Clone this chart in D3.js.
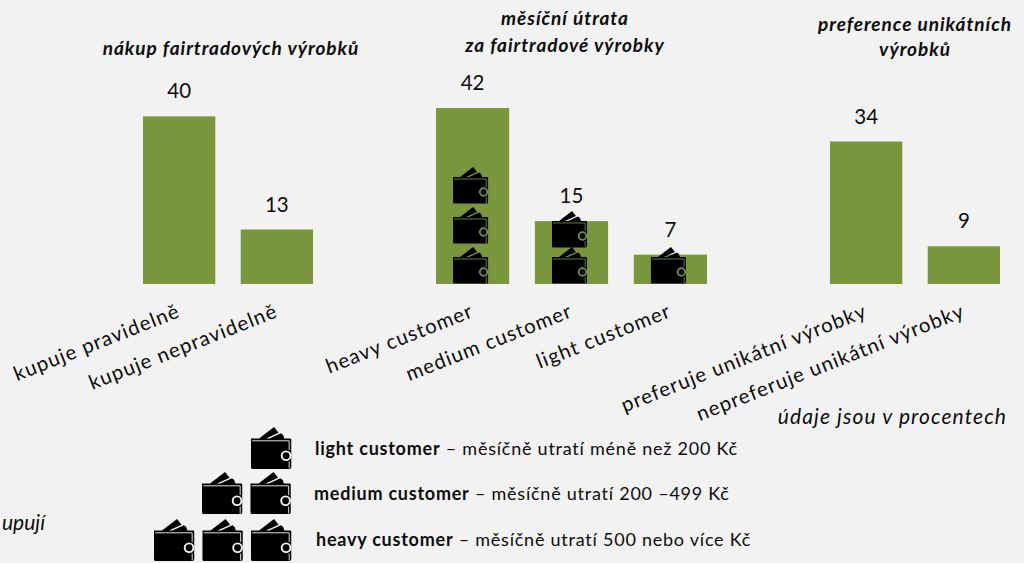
<!DOCTYPE html>
<html lang="cs">
<head>
<meta charset="utf-8">
<title>Fairtrade</title>
<script src="https://cdn.jsdelivr.net/npm/d3@7"></script>
<style>
  html, body { margin: 0; padding: 0; background: #f2f2f2; overflow: hidden; }
  svg { display: block; font-family: Lato, "Open Sans", sans-serif; fill: #0d0d0d; }
  .panel-title { font-size: 19px; font-weight: 700; font-style: italic; text-anchor: middle; letter-spacing: 0.95px; }
  .value-label { font-size: 20.5px; text-anchor: middle; }
  .tick text { font-family: Lato, sans-serif; font-size: 20.3px; fill: #0d0d0d; letter-spacing: 1.1px; }
  .note { font-size: 21px; font-style: italic; letter-spacing: 1.1px; }
  .side-note { font-size: 21px; font-style: italic; }
  .legend-text { font-size: 18px; letter-spacing: 0.76px; }
  .legend-text .strong { font-weight: 700; }
</style>
</head>
<body>
<div id="chart"></div>
<script>
const WIDTH = 1024;
const HEIGHT = 563;
const BAR_COLOR = "#7a963d";
const BG_COLOR = "#f2f2f2";

// values, in percent
const purchaseCategories = ["kupuje pravidelně", "kupuje nepravidelně"];
const purchaseValues = [40, 13];
const spendCategories = ["heavy customer", "medium customer", "light customer"];
const spendValues = [42, 15, 7];
const uniqueCategories = ["preferuje unikátní výrobky", "nepreferuje unikátní výrobky"];
const uniqueValues = [34, 9];

const spendWallets = [3, 2, 1];
const walletSteps = [40, 36, 0];

const panelTitles = [
  ["nákup fairtradových výrobků"],
  ["měsíční útrata", "za fairtradové výrobky"],
  ["preference unikátních", "výrobků"]
];

const legendNames = ["light customer", "medium customer", "heavy customer"];
const legendTexts = [
  " – měsíčně utratí méně než 200 Kč",
  " – měsíčně utratí 200 –499 Kč",
  " – měsíčně utratí 500 nebo více Kč"
];
const legendWallets = [1, 2, 3];

const BASELINE = 284;
const y = d3.scaleLinear().domain([0, 42]).range([BASELINE, 108]);

const panels = [
  { categories: purchaseCategories, values: purchaseValues, range: [143, 313], titleX: 231, titleY: [55] },
  { categories: spendCategories, values: spendValues, range: [436, 707], titleX: 565, titleY: [25, 52] },
  { categories: uniqueCategories, values: uniqueValues, range: [830, 1000], titleX: 915, titleY: [31, 56] }
];

const svg = d3.select("#chart")
  .append("svg")
  .attr("width", WIDTH)
  .attr("height", HEIGHT)
  .attr("viewBox", `0 0 ${WIDTH} ${HEIGHT}`);

svg.append("rect")
  .attr("width", WIDTH)
  .attr("height", HEIGHT)
  .attr("fill", BG_COLOR);

// wallet icon, 35 x 37 units; gaps take the colour of what is behind it
const wallet = svg.append("defs").append("g").attr("id", "wallet");
wallet.append("path")
  .attr("fill", "#000")
  .attr("d", "M7,10 L20,0 L24,5 L13,10 Z M16,10 L26,5.5 L28,7 L29,10 Z M0,10 H34 Q35,10 35,11 V35 Q35,36.5 33.5,36.5 H1 Q0,36.5 0,35 Z");
wallet.append("path")
  .attr("fill", "none")
  .attr("stroke", "currentColor")
  .attr("stroke-width", 0.8)
  .attr("d", "M1,12 H33.2 V20 M33.2,30 V36");
wallet.append("circle")
  .attr("cx", 30.5)
  .attr("cy", 25)
  .attr("r", 3.8)
  .attr("fill", "#000")
  .attr("stroke", "currentColor")
  .attr("stroke-width", 1.7);

function addWallet(x0, y0, scale, color) {
  svg.append("use")
    .attr("href", "#wallet")
    .attr("transform", `translate(${x0},${y0}) scale(${scale})`)
    .style("color", color);
}

panels.forEach((panel, panelIndex) => {
  const x = d3.scaleBand()
    .domain(panel.categories)
    .range(panel.range)
    .paddingInner(0.26);

  const group = svg.append("g").attr("class", "panel");

  group.selectAll("rect")
    .data(panel.values)
    .join("rect")
    .attr("x", (d, i) => x(panel.categories[i]))
    .attr("y", (d) => y(d))
    .attr("width", x.bandwidth())
    .attr("height", (d) => BASELINE - y(d))
    .attr("fill", BAR_COLOR);

  group.selectAll(".value-label")
    .data(panel.values)
    .join("text")
    .attr("class", "value-label")
    .attr("x", (d, i) => x(panel.categories[i]) + x.bandwidth() / 2)
    .attr("y", (d) => y(d) - 18)
    .text((d) => d);

  const axis = group.append("g")
    .attr("transform", `translate(0,${BASELINE})`)
    .call(d3.axisBottom(x).tickSize(0));
  axis.select(".domain").remove();
  axis.selectAll("text")
    .attr("text-anchor", "end")
    .attr("dx", -10)
    .attr("dy", 28)
    .attr("transform", "rotate(-21.5)");

  panelTitles[panelIndex].forEach((line, i) => {
    group.append("text")
      .attr("class", "panel-title")
      .attr("x", panel.titleX)
      .attr("y", panel.titleY[i])
      .text(line);
  });

  if (panel.categories === spendCategories) {
    panel.categories.forEach((category, i) => {
      const center = x(category) + x.bandwidth() / 2 - 2;
      for (let k = 0; k < spendWallets[i]; k += 1) {
        addWallet(center - 17.5, BASELINE - 37 - k * walletSteps[i], 1, BAR_COLOR);
      }
    });
  }
});

svg.append("text")
  .attr("class", "note")
  .attr("x", 1007)
  .attr("y", 424)
  .attr("text-anchor", "end")
  .text("údaje jsou v procentech");

// the reference shows only the end of this word at the left edge
svg.append("text")
  .attr("class", "side-note")
  .attr("x", 2)
  .attr("y", 530)
  .text("upují");

// legend
const legendIconTop = [427, 472, 519];
const legendTextX = [315, 314, 316];
const legendTextY = [455, 500, 546];
const legendIconX = [251, 202, 154];
const legendIconStep = 48.5;

legendNames.forEach((name, i) => {
  for (let k = 0; k < legendWallets[i]; k += 1) {
    addWallet(legendIconX[i] + k * legendIconStep, legendIconTop[i], 1.15, BG_COLOR);
  }
  const line = svg.append("text")
    .attr("class", "legend-text")
    .attr("x", legendTextX[i])
    .attr("y", legendTextY[i]);
  line.append("tspan").attr("class", "strong").text(name);
  line.append("tspan").text(legendTexts[i]);
});
</script>
</body>
</html>
